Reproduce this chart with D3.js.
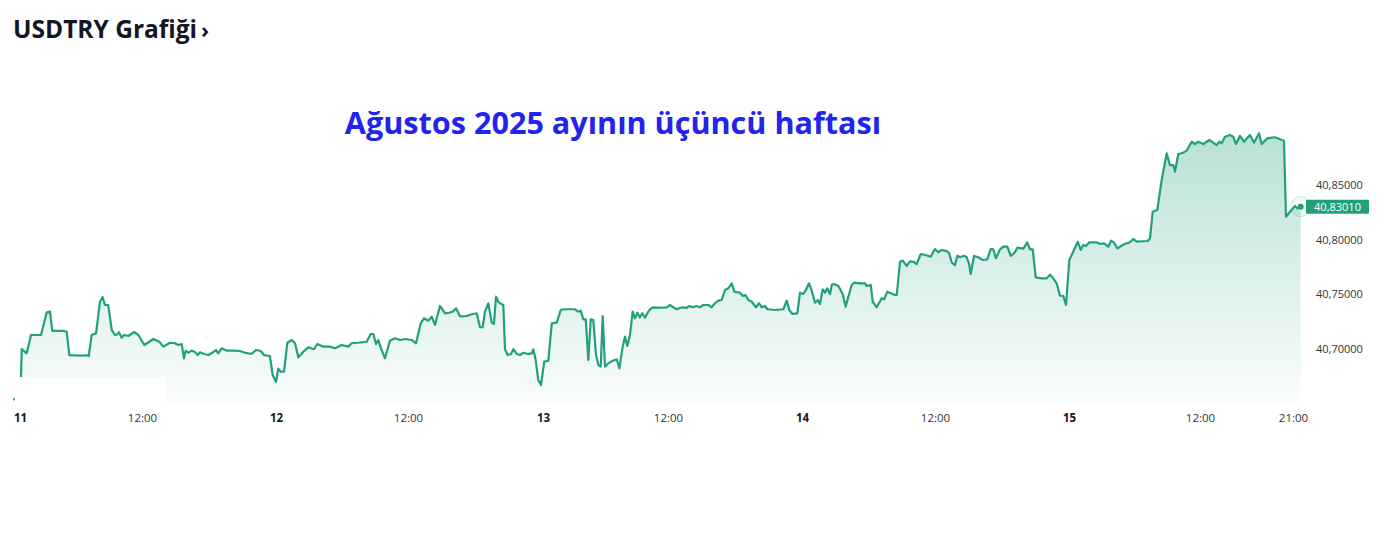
<!DOCTYPE html>
<html>
<head>
<meta charset="utf-8">
<script src="https://cdn.jsdelivr.net/npm/d3@7"></script>
<style>
  body { margin: 0; background: #fff; }
  svg { display: block; }
</style>
</head>
<body>
<svg width="1384" height="537"></svg>
<script>
// hours since 11 Aug 2025 00:00
var hours = [
  -0.66,0.05,0.17,0.66,1.08,2.07,2.63,2.95,3.18,4.26,4.59,4.85,6.07,6.62,6.76,7.05,7.48,7.87,8.13,8.36,
  8.68,9.02,9.34,9.57,9.74,10.0,10.23,10.65,11.24,11.64,
  12.21,13.01,13.55,13.91,14.51,14.96,15.25,15.55,15.76,15.91,16.15,16.45,16.75,16.99,17.19,17.64,17.94,18.39,18.63,18.83,
  19.14,19.59,20.18,20.78,21.22,21.52,21.83,22.21,22.63,22.93,23.46,23.70,24.0,
  24.21,24.43,24.73,25.03,25.43,25.73,26.03,26.48,26.94,27.45,27.75,28.30,28.91,29.36,29.97,30.57,30.88,31.48,32.25,32.61,
  32.85,33.09,33.30,33.55,33.91,34.36,34.82,35.27,35.73,
  36.33,36.71,37.13,37.42,37.80,38.11,38.40,38.84,39.29,39.67,39.97,40.27,40.62,41.22,41.66,42.11,42.40,42.64,42.84,43.14,
  43.44,43.64,43.82,44.03,44.18,44.47,44.62,44.86,45.16,45.36,45.66,45.96,46.25,46.69,47.00,47.14,47.35,47.58,47.82,
  48.12,48.51,48.84,49.32,49.70,50.02,50.43,51.07,51.39,51.62,51.87,52.10,52.35,52.58,52.83,53.09,53.31,53.54,53.73,53.95,
  54.27,54.69,55.08,55.33,55.65,55.87,56.10,56.35,56.61,56.83,57.05,57.31,57.53,57.79,58.01,58.27,58.59,59.39,59.88,
  60.18,60.47,60.78,61.07,61.34,61.67,61.90,62.21,62.56,62.86,63.16,63.60,63.91,64.21,64.50,64.81,65.10,65.40,65.71,65.94,
  66.45,66.69,66.93,67.20,67.50,67.88,68.15,68.39,68.69,68.90,69.58,70.33,70.63,70.86,71.13,71.58,71.82,
  72.12,72.36,72.63,72.88,73.17,73.42,73.62,73.87,74.08,74.28,74.53,74.68,74.89,75.28,75.67,75.94,76.18,76.49,76.70,77.24,
  77.69,77.84,78.20,78.38,78.74,79.19,79.40,79.70,80.39,80.55,80.84,81.09,81.45,81.75,82.05,82.35,82.71,83.16,83.61,84.00,
  84.30,84.60,85.05,85.28,85.50,85.79,86.00,86.24,86.60,86.84,87.04,87.20,87.49,87.88,88.27,88.68,88.99,89.22,89.46,89.82,
  90.12,90.48,90.78,91.16,91.37,91.91,92.26,92.51,92.75,93.02,93.55,94.00,94.30,94.59,94.90,95.19,95.49,95.73,
  96.03,96.46,96.80,97.07,97.31,97.56,97.86,98.54,98.84,99.21,99.60,99.85,100.12,100.43,100.92,101.28,101.59,101.89,102.20,103.21,
  103.42,103.67,104.09,104.49,104.95,105.25,105.55,105.71,106.01,106.47,106.78,107.24,107.54,107.84,
  108.32,108.90,109.28,109.62,109.87,110.10,110.42,110.90,111.22,111.48,111.87,112.26,112.84,113.23,113.71,113.97,114.51,115.26,115.74,116.13,
  116.32,116.71,117.19,117.41,117.74
]
var prices = [
  40.6528,40.6573,40.6995,40.6956,40.7124,40.7124,40.7332,40.7338,40.7161,40.7163,40.7154,40.6940,40.6934,40.6938,40.6931,40.7124,40.7139,40.7429,40.7470,40.7399,
  40.7399,40.7170,40.7124,40.7130,40.7149,40.7099,40.7124,40.7115,40.7151,40.7124,
  40.7032,40.7087,40.7062,40.7017,40.7053,40.7048,40.7032,40.7041,40.6910,40.6980,40.6961,40.6980,40.6968,40.6940,40.6965,40.6947,40.6940,40.6968,40.6986,40.6956,
  40.7002,40.6980,40.6980,40.6977,40.6961,40.6956,40.6952,40.6986,40.6977,40.6940,40.6931,40.6757,40.6695,
  40.6815,40.6787,40.6787,40.7053,40.7078,40.7048,40.6919,40.6971,40.7011,40.6993,40.7041,40.7017,40.7017,40.7002,40.7032,40.7017,40.7048,40.7053,40.7062,40.7133,
  40.7133,40.7041,40.7078,40.7002,40.6910,40.7072,40.7094,40.7078,40.7087,
  40.7078,40.7048,40.7231,40.7277,40.7255,40.7292,40.7216,40.7390,40.7323,40.7328,40.7338,40.7369,40.7295,40.7298,40.7314,40.7323,40.7195,40.7195,40.7338,40.7415,
  40.7237,40.7225,40.7475,40.7429,40.7415,40.7399,40.6993,40.6940,40.6950,40.6993,40.6950,40.6940,40.6961,40.6950,40.6956,40.6993,40.6894,40.6711,40.6665,
  40.6879,40.6888,40.7231,40.7237,40.7353,40.7360,40.7360,40.7360,40.7338,40.7347,40.7268,40.7268,40.6894,40.7268,40.7261,40.6940,40.6849,40.6833,40.7298,40.6833,
  40.6864,40.6888,40.6901,40.6818,40.7017,40.7108,40.7023,40.7124,40.7338,40.7277,40.7328,40.7286,40.7323,40.7283,40.7323,40.7360,40.7378,40.7374,40.7378,
  40.7399,40.7378,40.7360,40.7372,40.7378,40.7372,40.7390,40.7378,40.7390,40.7378,40.7399,40.7399,40.7378,40.7415,40.7439,40.7445,40.7537,40.7552,40.7598,40.7521,
  40.7512,40.7482,40.7491,40.7445,40.7429,40.7378,40.7415,40.7378,40.7390,40.7360,40.7353,40.7360,40.7439,40.7353,40.7317,40.7323,40.7512,
  40.7500,40.7537,40.7598,40.7530,40.7420,40.7445,40.7408,40.7543,40.7512,40.7552,40.7500,40.7583,40.7592,40.7573,40.7500,40.7384,40.7475,40.7583,40.7604,40.7598,
  40.7598,40.7573,40.7583,40.7429,40.7378,40.7461,40.7451,40.7521,40.7491,40.7491,40.7796,40.7806,40.7757,40.7800,40.7796,40.7775,40.7867,40.7858,40.7842,40.7913,
  40.7883,40.7904,40.7894,40.7873,40.7787,40.7766,40.7851,40.7837,40.7851,40.7837,40.7782,40.7684,40.7849,40.7837,40.7812,40.7818,40.7913,40.7910,40.7828,40.7910,
  40.7934,40.7934,40.7849,40.7883,40.7925,40.7916,40.7974,40.7910,40.7910,40.7653,40.7644,40.7644,40.7677,40.7644,40.7598,40.7484,40.7482,40.7399,
  40.7812,40.7904,40.7980,40.7904,40.7950,40.7940,40.7974,40.7974,40.7959,40.7965,40.7934,40.7989,40.7971,40.7919,40.7950,40.7965,40.7974,40.8005,40.7980,40.7986,
  40.8011,40.8255,40.8271,40.8546,40.8791,40.8683,40.8683,40.8622,40.8784,40.8796,40.8815,40.8897,40.8876,40.8897,
  40.8876,40.8913,40.8888,40.8867,40.8897,40.8883,40.8943,40.8959,40.8943,40.8876,40.8950,40.8897,40.8959,40.8888,40.8974,40.8876,40.8928,40.8938,40.8919,40.8906,
  40.8209,40.8255,40.8307,40.8286,40.8301
]
var lastPrice = 40.83010

var xTickHours  = [0, 12, 24, 36, 48, 60, 72, 84, 96, 108, 117]
var xTickLabels = ['11','12:00','12','12:00','13','12:00','14','12:00','15','12:00','21:00']
var yTicks = [40.70, 40.75, 40.80, 40.85]

var lineColor = '#22a07e'
var plotBottom = 404

var svg = d3.select('svg')

// trading-time axis: market gaps make the days uneven
var x = d3.scaleLinear()
    .domain(xTickHours)
    .range([20, 142, 276, 408, 543, 668, 802, 935, 1069, 1200, 1293])

var y = d3.scaleLinear()
    .domain([40.70, 40.85])
    .range([348.5, 185])

var data = hours.map(function(h, i){ return {h: h, p: prices[i]} })

var grad = svg.append('defs').append('linearGradient')
    .attr('id', 'fillGrad')
    .attr('gradientUnits', 'userSpaceOnUse')
    .attr('x1', 0).attr('y1', 130).attr('x2', 0).attr('y2', plotBottom)
grad.append('stop').attr('offset', '0%').attr('stop-color', lineColor).attr('stop-opacity', 0.32)
grad.append('stop').attr('offset', '100%').attr('stop-color', lineColor).attr('stop-opacity', 0.02)

var area = d3.area()
    .x(function(d){ return x(d.h) })
    .y0(plotBottom)
    .y1(function(d){ return y(d.p) })

var line = d3.line()
    .x(function(d){ return x(d.h) })
    .y(function(d){ return y(d.p) })

svg.append('path')
    .attr('d', area(data))
    .style('fill', 'url(#fillGrad)')

svg.append('path')
    .attr('d', line(data))
    .style('fill', 'none')
    .style('stroke', lineColor)
    .style('stroke-width', 2.2)
    .style('stroke-linejoin', 'round')

// white patch over the lower-left corner, as in the screenshot
svg.append('rect')
    .attr('x', 15).attr('y', 377)
    .attr('width', 151).attr('height', 29)
    .style('fill', '#fff')

// end marker
var last = data[data.length - 1]
svg.append('circle')
    .attr('cx', x(last.h)).attr('cy', y(last.p)).attr('r', 10)
    .style('fill', lineColor).style('fill-opacity', 0.06)
    .style('stroke', lineColor).style('stroke-opacity', 0.25)
svg.append('circle')
    .attr('cx', x(last.h)).attr('cy', y(last.p)).attr('r', 3)
    .style('fill', lineColor)

// x axis
var xAxis = d3.axisBottom(x)
    .tickValues(xTickHours)
    .tickFormat(function(d, i){ return xTickLabels[i] })
    .tickSize(0)
    .tickPadding(0)

var gx = svg.append('g')
    .attr('transform', 'translate(0,414)')
    .call(xAxis)
gx.select('.domain').remove()
gx.selectAll('text')
    .style('font-family', '"Open Sans", sans-serif')
    .style('font-size', '11.5px')
    .style('fill', function(d, i){ return xTickLabels[i].indexOf(':') < 0 ? '#131722' : '#333' })
    .style('font-weight', function(d, i){ return xTickLabels[i].indexOf(':') < 0 ? 700 : 400 })

// y axis on the right
var yAxis = d3.axisRight(y)
    .tickValues(yTicks)
    .tickFormat(function(d){ return d.toFixed(5).replace('.', ',') })
    .tickSize(0)
    .tickPadding(0)

var gy = svg.append('g')
    .attr('transform', 'translate(1316,0)')
    .call(yAxis)
gy.select('.domain').remove()
gy.selectAll('text')
    .style('font-family', '"Open Sans", sans-serif')
    .style('font-size', '11px')
    .style('fill', '#333')

// last price tag
var tag = svg.append('g').attr('transform', 'translate(1306,' + (y(lastPrice) - 7) + ')')
tag.append('rect')
    .attr('width', 63).attr('height', 14).attr('rx', 1)
    .style('fill', lineColor)
tag.append('text')
    .attr('x', 31.5).attr('y', 7).attr('dy', '0.35em')
    .attr('text-anchor', 'middle')
    .style('font-family', '"Open Sans", sans-serif')
    .style('font-size', '11px')
    .style('fill', '#fff')
    .text(lastPrice.toFixed(5).replace('.', ','))

// headings
svg.append('text')
    .attr('x', 13).attr('y', 38)
    .style('font-family', '"Open Sans", sans-serif')
    .style('font-weight', 700)
    .style('font-size', '24.5px')
    .style('fill', '#131722')
    .text('USDTRY Grafiği')
  .append('tspan')
    .attr('dx', 4)
    .style('font-size', '22px')
    .text('›')

svg.append('text')
    .attr('x', 613).attr('y', 134)
    .attr('text-anchor', 'middle')
    .style('font-family', '"Open Sans", sans-serif')
    .style('font-weight', 700)
    .style('font-size', '30.6px')
    .style('fill', '#2323f0')
    .text('Ağustos 2025 ayının üçüncü haftası')
</script>
</body>
</html>
